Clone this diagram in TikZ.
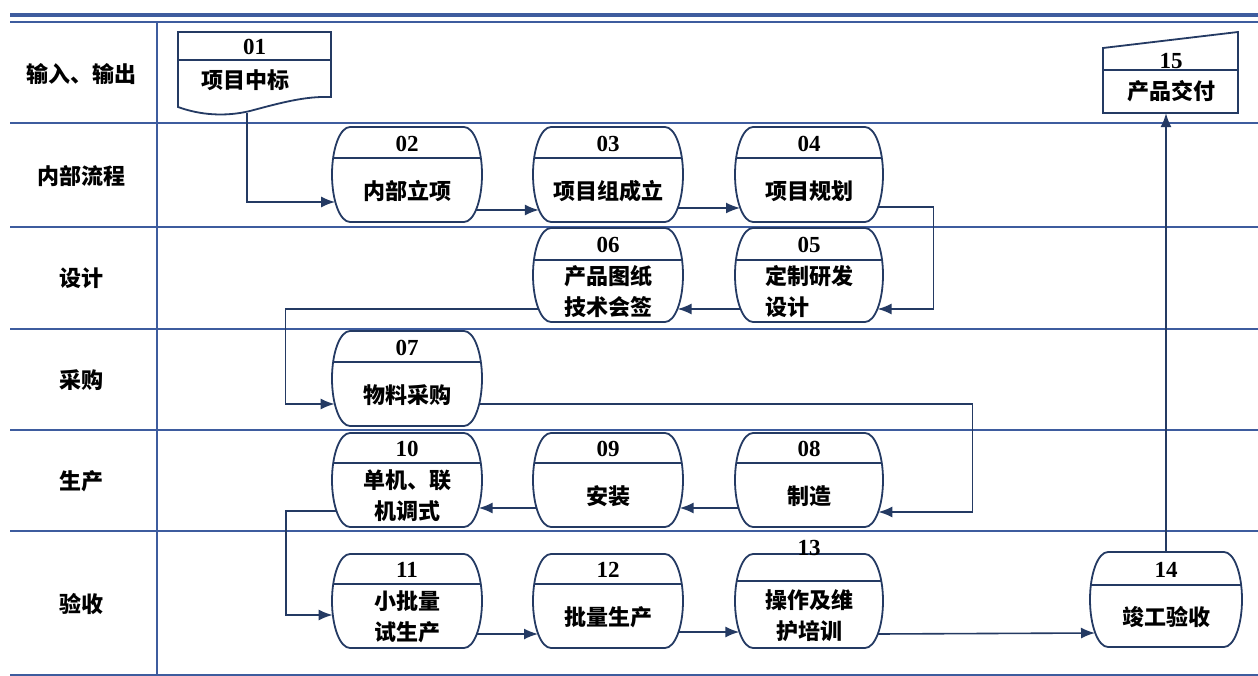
\documentclass[tikz,border=0pt]{standalone}
\usepackage{fontspec}
\setmainfont{Liberation Serif}
\newfontfamily\cjk{Noto Sans CJK SC}
\usetikzlibrary{arrows.meta,calc}
\definecolor{lanec}{HTML}{3E5C9E}
\definecolor{navy}{HTML}{243A63}
% #1 name, #2 x1, #3 x2, #4 top, #5 header line, #6 bottom, #7 number, #8 text
\newcommand\lzbox[8]{%
  \path[boxline] ({#2+18},#4) -- ({#3-18},#4)
     arc[start angle=-90,end angle=90,x radius=18,y radius={(#6-#4)/2}]
     -- ({#2+18},#6)
     arc[start angle=90,end angle=270,x radius=18,y radius={(#6-#4)/2}] -- cycle;
  \begin{scope}
    \clip ({#2+18},#4) -- ({#3-18},#4)
     arc[start angle=-90,end angle=90,x radius=18,y radius={(#6-#4)/2}]
     -- ({#2+18},#6)
     arc[start angle=90,end angle=270,x radius=18,y radius={(#6-#4)/2}] -- cycle;
    \draw[navy,line width=1.8pt] (#2,#5) -- (#3,#5);
  \end{scope}
  \node[inner sep=0,minimum width={#3-#2},minimum height={#6-#4}] (#1) at ({(#2+#3)/2},{(#4+#6)/2}) {};
  \node[num] (#1num) at ({(#2+#3)/2},{(#4+#5)/2+1}) {#7};
  \node[txt] (#1txt) at ({(#2+#3)/2},{(#5+#6)/2+1}) {#8};
}
\begin{document}
\begin{tikzpicture}[x=1pt,y=-1pt,
  boxline/.style={draw=navy,line width=1.8pt,fill=white},
  conn/.style={draw=navy,line width=1.6pt,-{Latex[length=14pt,width=11pt]}},
  laneline/.style={draw=lanec,line width=1.8pt},
  num/.style={font=\fontsize{23}{23}\selectfont\bfseries,inner sep=0},
  txt/.style={font=\cjk\bfseries\fontsize{22}{31}\selectfont,align=center,inner sep=0},
  lbl/.style={font=\cjk\bfseries\fontsize{22}{26}\selectfont,inner sep=0}]
\useasboundingbox (0,0) rectangle (1258,676);
\fill[white] (0,0) rectangle (1258,676);

% lanes
\draw[draw=lanec,line width=4pt] (10,15) -- (1258,15);
\draw[laneline] (10,22) -- (1258,22);
\foreach \yy in {123,227,329,430,531,675} {\draw[laneline] (10,\yy) -- (1258,\yy);}
\draw[laneline] (157,22) -- (157,675);

\node[lbl] (l1) at (81,74) {输入、输出};
\node[lbl] (l2) at (81,176) {内部流程};
\node[lbl] (l3) at (81,278) {设计};
\node[lbl] (l4) at (81,380) {采购};
\node[lbl] (l5) at (81,481) {生产};
\node[lbl] (l6) at (81,604) {验收};

% 01 document
\path[boxline] (178,32) -- (331,32) -- (331,97)
   .. controls (305,96) and (280,103) .. (250,111)
   .. controls (225,117) and (200,115) .. (178,107) -- cycle;
\draw[navy,line width=1.8pt] (178,60) -- (331,60);
\node[inner sep=0,minimum width=153,minimum height=75] (n01) at (254.5,69.5) {};
\node[num] (n01num) at (254.5,47) {01};
\node[txt] (n01txt) at (245.5,80) {项目中标};

% 15 manual input
\path[boxline] (1103,48) -- (1238,32) -- (1238,113) -- (1103,113) -- cycle;
\draw[navy,line width=1.8pt] (1103,70) -- (1238,70);
\node[inner sep=0,minimum width=135,minimum height=81] (n15) at (1170.5,72.5) {};
\node[num] (n15num) at (1171,61) {15};
\node[txt] (n15txt) at (1171,91) {产品交付};

% process boxes
\lzbox{n02}{332}{482}{127}{158}{222}{02}{内部立项}
\lzbox{n03}{533}{683}{127}{158}{222}{03}{项目组成立}
\lzbox{n04}{735}{883}{127}{158}{222}{04}{项目规划}
\lzbox{n06}{533}{683}{228}{260}{322}{06}{产品图纸\\技术会签}
\lzbox{n05}{735}{883}{228}{260}{322}{05}{定制研发\\设计\hphantom{研发}}
\lzbox{n07}{332}{482}{331}{362}{426}{07}{物料采购}
\lzbox{n10}{332}{482}{433}{463}{527}{10}{单机、联\\机调式}
\lzbox{n09}{533}{683}{433}{463}{527}{09}{安装}
\lzbox{n08}{735}{883}{433}{463}{527}{08}{制造}
\lzbox{n11}{332}{482}{554}{584}{648}{11}{小批量\\试生产}
\lzbox{n12}{533}{683}{554}{584}{648}{12}{批量生产}
\lzbox{n13}{735}{883}{554}{581}{648}{}{操作及维\\护培训}
\node[num] (n13lab) at (809,548) {13};
\lzbox{n14}{1090}{1242}{552}{585}{647}{14}{竣工验收}

% connectors
\draw[conn] ([xshift=-7.5pt,yshift=-6pt]n01.south) |- ([xshift=3.3pt,yshift=-27.5pt]n02.west);
\draw[conn] ([xshift=-6pt,yshift=-35.5pt]n02.east) -- ([xshift=6pt,yshift=-35.5pt]n03.west);
\draw[conn] ([xshift=-5.2pt,yshift=-33.5pt]n03.east) -- ([xshift=5.2pt,yshift=-33.5pt]n04.west);
\draw[conn] ([xshift=-4.9pt,yshift=-32.5pt]n04.east) -- ++(55,0) |- ([xshift=-5.6pt,yshift=-34pt]n05.east);
\draw[conn] ([xshift=5.6pt,yshift=-34pt]n05.west) -- ([xshift=-5.6pt,yshift=-34pt]n06.east);
\draw[conn] ([xshift=5.6pt,yshift=-34pt]n06.west) -- ++(-253,0) |- ([xshift=2.8pt,yshift=-25.5pt]n07.west);
\draw[conn] ([xshift=-2.8pt,yshift=-25.5pt]n07.east) -- ++(493,0) |- ([xshift=-4.8pt,yshift=-32pt]n08.east);
\draw[conn] ([xshift=3.5pt,yshift=-28pt]n08.west) -- ([xshift=-3.5pt,yshift=-28pt]n09.east);
\draw[conn] ([xshift=3.5pt,yshift=-28pt]n09.west) -- ([xshift=-3.5pt,yshift=-28pt]n10.east);
\draw[conn] ([xshift=4.5pt,yshift=-31pt]n10.west) -- ++(-50.5,0) |- ([xshift=0.8pt,yshift=-14pt]n11.west);
\draw[conn] ([xshift=-5.2pt,yshift=-33pt]n11.east) -- ([xshift=5.2pt,yshift=-33pt]n12.west);
\draw[conn] ([xshift=-4.5pt,yshift=-31pt]n12.east) -- ([xshift=4.5pt,yshift=-31pt]n13.west);
\draw[conn] ([xshift=-5.2pt,yshift=-33pt]n13.east) -- ([xshift=5.2pt,yshift=-33.5pt]n14.west);
\draw[conn] (n14.north) -- (n14.north |- n15.south);
\end{tikzpicture}
\end{document}
